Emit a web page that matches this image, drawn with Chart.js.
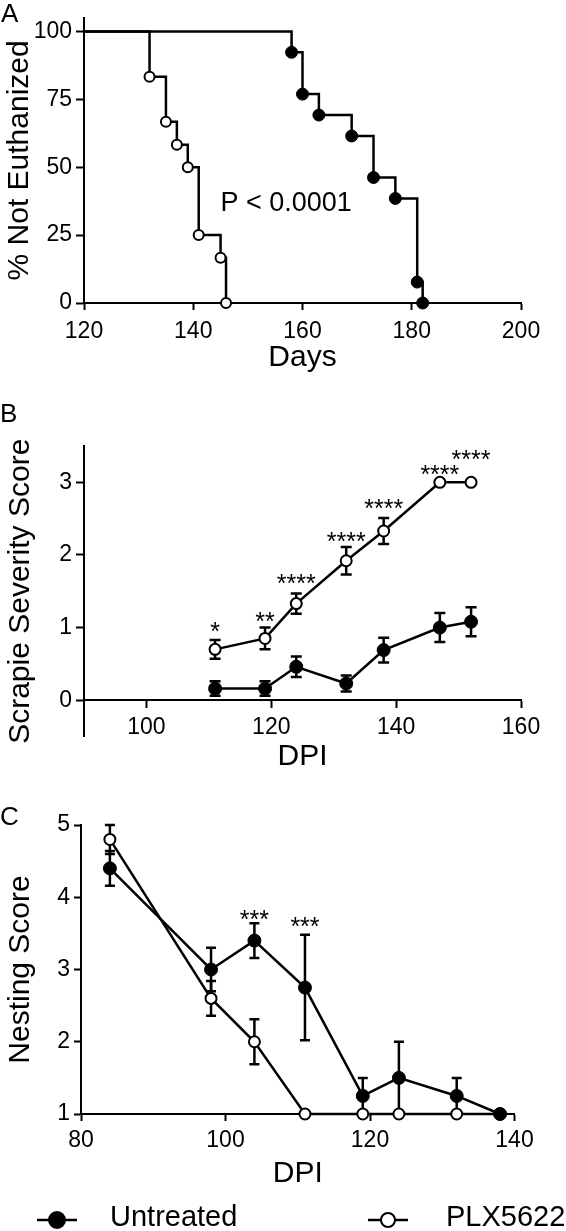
<!DOCTYPE html>
<html>
<head>
<meta charset="utf-8">
<script src="https://cdn.jsdelivr.net/npm/chart.js@4.4.0/dist/chart.umd.min.js"></script>
<style>
  html, body { margin: 0; padding: 0; background: #fff; }
  body { width: 566px; height: 1231px; position: relative; overflow: hidden; font-family: 'Liberation Sans', Arial, sans-serif; }
  canvas { position: absolute; left: 0; }
  .panel-tag { position: absolute; left: 0; font-size: 26px; line-height: 26px; color: #000; }
</style>
</head>
<body>
<canvas id="survivalChart" width="566" height="390" style="top:0px"></canvas>
<canvas id="scrapieChart" width="566" height="390" style="top:400px"></canvas>
<canvas id="nestingChart" width="566" height="441" style="top:790px"></canvas>
<div class="panel-tag" style="top:0px;left:1px">A</div>
<div class="panel-tag" style="top:400px">B</div>
<div class="panel-tag" style="top:803px">C</div>

<script>
// ---- data ----
const seriesNames = ['Untreated', 'PLX5622'];

// A: survival (percent not euthanized)
const kmUntrDays = [120, 158, 160, 163, 169, 173, 177, 181, 182];
const kmUntrPct = [100, 92.3, 76.9, 69.2, 61.5, 46.2, 38.5, 7.7, 0];
const kmPlxDays = [120, 132, 135, 137, 139, 141, 145, 146];
const kmPlxPct = [100, 83.3, 66.7, 58.3, 50, 25, 16.7, 0];
const kmXTicks = [120, 140, 160, 180, 200];
const kmYTicks = [0, 25, 50, 75, 100];
const pValueText = 'P < 0.0001';
const pValueAt = [157, 36.5];

// B: scrapie severity score
const scrapieDays = [111, 119, 124, 132, 138, 147, 152];
const scrapieUntr = [0.16, 0.16, 0.46, 0.23, 0.69, 1.0, 1.08];
const scrapieUntrSem = [0.1, 0.1, 0.14, 0.11, 0.17, 0.2, 0.2];
const scrapiePlx = [0.70, 0.85, 1.33, 1.92, 2.33, 3.0, 3.0];
const scrapiePlxSem = [0.13, 0.15, 0.14, 0.19, 0.18, 0, 0];
const scrapieStars = ['*', '**', '****', '****', '****', '****', '****'];
const scrapieStarY = [1.03, 1.17, 1.69, 2.27, 2.72, 3.19, 3.39];
const scrapieXTicks = [100, 120, 140, 160];
const scrapieYTicks = [0, 1, 2, 3];

// C: nesting score
const nestDays = [84, 98, 104, 111, 119, 124, 132, 138];
const nestUntr = [4.4, 3.0, 3.4, 2.75, 1.25, 1.5, 1.25, 1.0];
const nestUntrSem = [0.24, 0.3, 0.24, 0.73, 0.25, 0.5, 0.25, 0];
const nestPlx = [4.8, 2.6, 2.0, 1.0, 1.0, 1.0, 1.0, 1.0];
const nestPlxSem = [0.2, 0.24, 0.31, 0, 0, 0, 0, 0];
const nestStarDays = [104, 111];
const nestStars = ['***', '***'];
const nestStarY = [3.78, 3.68];
const nestXTicks = [80, 100, 120, 140];
const nestYTicks = [1, 2, 3, 4, 5];

// ---- helpers ----
Chart.defaults.font.family = "'Liberation Sans', Arial, sans-serif";
Chart.defaults.color = '#000';

const toPoints = (xs, ys) => xs.map((x, i) => ({x: x, y: ys[i]}));
const useTicks = (values) => (scale) => { scale.ticks = values.map(v => ({value: v})); };

function axis(opts) {
  return {
    type: 'linear',
    position: opts.position,
    min: opts.min,
    max: opts.max,
    afterBuildTicks: useTicks(opts.ticks),
    afterFit: (scale) => {
      if (opts.width) scale.width = opts.width;
      if (opts.height) scale.height = opts.height;
    },
    grid: {drawOnChartArea: false, drawTicks: true, tickLength: opts.tickLength || 7, tickWidth: 2, tickColor: '#000'},
    border: {display: true, color: '#000', width: 2},
    ticks: {font: {size: 23}, padding: opts.tickPad, color: '#000', maxRotation: 0, autoSkip: false},
    title: {display: true, text: opts.title, font: {size: 30}, color: '#000', padding: opts.titlePad}
  };
}

function filledSeries(label, pts, errs, radius) {
  return {
    label: label, data: pts, errors: errs,
    borderColor: '#000', borderWidth: 2.5, tension: 0, clip: false,
    pointBackgroundColor: '#000', pointBorderColor: '#000', pointBorderWidth: 1,
    pointRadius: radius
  };
}
function openSeries(label, pts, errs, radius) {
  return {
    label: label, data: pts, errors: errs,
    borderColor: '#000', borderWidth: 2.5, tension: 0, clip: false,
    pointBackgroundColor: '#fff', pointBorderColor: '#000', pointBorderWidth: 2,
    pointRadius: radius
  };
}

// error bars drawn under the markers
const errorBars = {
  id: 'errorBars',
  beforeDatasetsDraw(chart, args, opts) {
    const {ctx, scales: {x, y}} = chart;
    ctx.save();
    ctx.strokeStyle = '#000';
    ctx.lineWidth = 2.5;
    chart.data.datasets.forEach((ds) => {
      if (!ds.errors) return;
      ds.data.forEach((pt, j) => {
        const e = ds.errors[j];
        if (!e) return;
        const px = x.getPixelForValue(pt.x);
        const top = y.getPixelForValue(pt.y + e);
        const bot = y.getPixelForValue(pt.y - e);
        ctx.beginPath();
        ctx.moveTo(px, top); ctx.lineTo(px, bot);
        ctx.moveTo(px - opts.cap, top); ctx.lineTo(px + opts.cap, top);
        ctx.moveTo(px - opts.cap, bot); ctx.lineTo(px + opts.cap, bot);
        ctx.stroke();
      });
    });
    ctx.restore();
  }
};

// asterisks and p value text, placed in data units
const textMarks = {
  id: 'textMarks',
  afterDatasetsDraw(chart, args, opts) {
    const {ctx, scales: {x, y}} = chart;
    ctx.save();
    ctx.fillStyle = '#000';
    ctx.textAlign = 'center';
    (opts.items || []).forEach((m) => {
      ctx.font = m.size + "px 'Liberation Sans', Arial, sans-serif";
      const px = x.getPixelForValue(m.x);
      const py = y.getPixelForValue(m.y);
      if (m.star) {
        ctx.textBaseline = 'alphabetic';
        ctx.fillText(m.text, px, py + 0.58 * m.size);
      } else {
        ctx.textBaseline = 'middle';
        ctx.fillText(m.text, px, py);
      }
    });
    ctx.restore();
  }
};

// legend row under panel C
const bottomLegend = {
  id: 'bottomLegend',
  afterDraw(chart, args, opts) {
    const ctx = chart.ctx;
    ctx.save();
    chart.data.datasets.forEach((ds, i) => {
      const x0 = opts.lineX[i];
      const y = opts.y;
      ctx.strokeStyle = '#000';
      ctx.lineWidth = 2.5;
      ctx.beginPath(); ctx.moveTo(x0, y); ctx.lineTo(x0 + opts.lineLen, y); ctx.stroke();
      ctx.beginPath();
      ctx.arc(x0 + opts.lineLen / 2, y, opts.radius[i], 0, Math.PI * 2);
      ctx.fillStyle = ds.pointBackgroundColor;
      ctx.fill();
      ctx.lineWidth = 2;
      ctx.stroke();
      ctx.fillStyle = '#000';
      ctx.font = "29px 'Liberation Sans', Arial, sans-serif";
      ctx.textBaseline = 'middle';
      ctx.textAlign = 'left';
      ctx.fillText(ds.label, opts.textX[i], y - 2);
    });
    ctx.restore();
  }
};

const baseOptions = {
  responsive: false,
  animation: false,
  events: [],
  plugins: {legend: {display: false}, tooltip: {enabled: false}}
};

// ---- A ----
const kmUntr = filledSeries(seriesNames[0], toPoints(kmUntrDays, kmUntrPct), null, (c) => c.dataIndex === 0 ? 0 : 6);
kmUntr.stepped = 'before';
const kmPlx = openSeries(seriesNames[1], toPoints(kmPlxDays, kmPlxPct), null, (c) => c.dataIndex === 0 ? 0 : 5);
kmPlx.stepped = 'before';

new Chart(document.getElementById('survivalChart'), {
  type: 'line',
  data: {datasets: [kmUntr, kmPlx]},
  options: Object.assign({}, baseOptions, {
    layout: {padding: {left: 0, top: 13, right: 45, bottom: 0}},
    scales: {
      x: axis({position: 'bottom', min: 120, max: 200, ticks: kmXTicks, height: 87, tickPad: 8,
               title: 'Days', titlePad: {top: 0, bottom: 14}}),
      y: axis({position: 'left', min: 0, max: 105, ticks: kmYTicks, width: 84, tickLength: 8, tickPad: 4,
               title: '% Not Euthanized', titlePad: {top: 2, bottom: 0}})
    },
    plugins: Object.assign({}, baseOptions.plugins, {
      textMarks: {items: [{x: pValueAt[0], y: pValueAt[1], text: pValueText, size: 27}]}
    })
  }),
  plugins: [textMarks]
});

// ---- B ----
new Chart(document.getElementById('scrapieChart'), {
  type: 'line',
  data: {datasets: [
    filledSeries(seriesNames[0], toPoints(scrapieDays, scrapieUntr), scrapieUntrSem, 6.5),
    openSeries(seriesNames[1], toPoints(scrapieDays, scrapiePlx), scrapiePlxSem, 5.5)
  ]},
  options: Object.assign({}, baseOptions, {
    layout: {padding: {left: 0, top: 46, right: 45, bottom: 53.5}},
    scales: {
      x: axis({position: {y: 0}, min: 90, max: 160, ticks: scrapieXTicks, height: 75, tickPad: 7,
               title: 'DPI', titlePad: {top: 0, bottom: 0}}),
      y: axis({position: 'left', min: -0.5, max: 3.5, ticks: scrapieYTicks, width: 84, tickLength: 8, tickPad: 4,
               title: 'Scrapie Severity Score', titlePad: {top: 3, bottom: 0}})
    },
    plugins: Object.assign({}, baseOptions.plugins, {
      errorBars: {cap: 5.5},
      textMarks: {items: scrapieDays.map((d, i) => ({x: d, y: scrapieStarY[i], text: scrapieStars[i], size: 25, star: true}))}
    })
  }),
  plugins: [errorBars, textMarks]
});

// ---- C ----
new Chart(document.getElementById('nestingChart'), {
  type: 'line',
  data: {datasets: [
    filledSeries(seriesNames[0], toPoints(nestDays, nestUntr), nestUntrSem, 6.5),
    openSeries(seriesNames[1], toPoints(nestDays, nestPlx), nestPlxSem, 5.5)
  ]},
  options: Object.assign({}, baseOptions, {
    layout: {padding: {left: 0, top: 35, right: 51.5, bottom: 31}},
    scales: {
      x: axis({position: 'bottom', min: 80, max: 140, ticks: nestXTicks, height: 86, tickPad: 6,
               title: 'DPI', titlePad: {top: 0, bottom: 8}}),
      y: axis({position: 'left', min: 1, max: 5, ticks: nestYTicks, width: 81, tickLength: 7, tickPad: 4,
               title: 'Nesting Score', titlePad: {top: 3, bottom: 0}})
    },
    plugins: Object.assign({}, baseOptions.plugins, {
      errorBars: {cap: 5},
      textMarks: {items: nestStarDays.map((d, i) => ({x: d, y: nestStarY[i], text: nestStars[i], size: 25, star: true}))},
      bottomLegend: {lineX: [37, 368], lineLen: 40, radius: [8, 7], textX: [110, 446], y: 430}
    })
  }),
  plugins: [errorBars, textMarks, bottomLegend]
});
</script>
</body>
</html>
